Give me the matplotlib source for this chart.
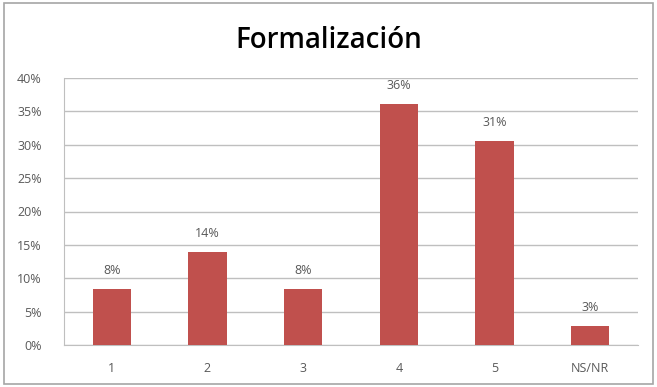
import matplotlib
matplotlib.use("Agg")
import matplotlib.pyplot as plt
from matplotlib.patches import Rectangle
from matplotlib.ticker import MultipleLocator, FuncFormatter

categories = ["1", "2", "3", "4", "5", "NS/NR"]
values = [8.33, 13.89, 8.33, 36.11, 30.56, 2.78]
value_labels = ["8%", "14%", "8%", "36%", "31%", "3%"]

plt.rcParams["font.family"] = ["Open Sans", "DejaVu Sans"]

fig = plt.figure(figsize=(6.57, 3.87), dpi=100)
fig.patches.append(Rectangle((0.006, 0.008), 0.988, 0.984, transform=fig.transFigure,
                             fill=False, edgecolor="#a6a6a6", linewidth=1.2))

ax = fig.add_axes([64 / 657, 1 - 345 / 387, (638 - 64) / 657, (345 - 78) / 387])
x = list(range(len(categories)))
ax.bar(x, values, width=0.4, color="#C0504D", zorder=3)

for xi, v, lab in zip(x, values, value_labels):
    ax.text(xi, v + 1.8, lab, ha="center", va="bottom", fontsize=9, color="#595959")

ax.set_xlim(-0.5, len(categories) - 0.5)
ax.set_ylim(0, 40)
ax.yaxis.set_major_locator(MultipleLocator(5))
ax.yaxis.set_major_formatter(FuncFormatter(lambda v, p: f"{v:.0f}%"))
ax.set_xticks(x)
ax.set_xticklabels(categories)
ax.tick_params(axis="both", length=0, labelsize=9, labelcolor="#595959")
ax.tick_params(axis="x", pad=12)
ax.tick_params(axis="y", pad=16)
ax.grid(axis="y", color="#bfbfbf", linewidth=1, zorder=0)
for side in ["top", "right"]:
    ax.spines[side].set_visible(False)
ax.spines["left"].set_color("#bfbfbf")
ax.spines["bottom"].set_color("#bfbfbf")

fig.text(329 / 657, 1 - 40 / 387, "Formalización", ha="center", va="center",
         fontsize=20, fontweight="semibold", color="black")

fig.savefig("out.png", dpi=100)
